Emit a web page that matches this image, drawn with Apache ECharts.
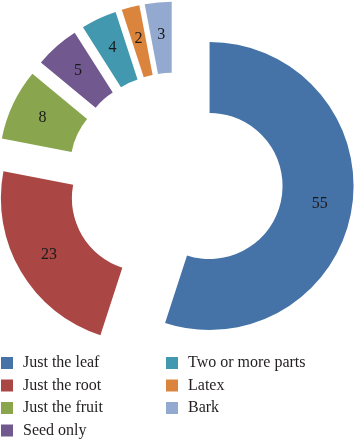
<!DOCTYPE html>
<html lang="en">

<head>
  <meta charset="UTF-8" />
  <title>Plant parts used</title>
  <script src="https://cdn.jsdelivr.net/npm/echarts@6/dist/echarts.min.js"></script>
  <style>
    body,
    html {
      margin: 0;
      padding: 0;
      width: 100%;
      height: 100%;
      overflow: hidden;
      background: #ffffff;
    }

    #chart {
      width: 355px;
      height: 440px;
    }
  </style>
</head>

<body>
  <div id="chart"></div>
</body>
<script>
  // parts of the plant that are used, share in %
  var categories = ['Just the leaf', 'Just the root', 'Just the fruit', 'Seed only', 'Two or more parts', 'Latex', 'Bark'];
  var values = [55, 23, 8, 5, 4, 2, 3];
  var colors = ['#4572a7', '#aa4643', '#89a54e', '#71588f', '#4198af', '#db843d', '#93a9cf'];

  var font = '"Liberation Serif", serif';

  var chart = echarts.init(document.getElementById('chart'), null, { renderer: 'canvas' });

  var legendBase = {
    orient: 'vertical',
    top: 355,
    padding: 0,
    itemWidth: 12,
    itemHeight: 12,
    itemGap: 6.5,
    icon: 'rect',
    selectedMode: false,
    textStyle: {
      fontFamily: font,
      fontSize: 16,
      lineHeight: 16,
      color: '#231f20',
      padding: [0, 0, 0, 5]
    }
  };

  var option = {
    animation: false,
    backgroundColor: '#ffffff',
    color: colors,
    legend: [
      Object.assign({}, legendBase, { left: 1, data: categories.slice(0, 4) }),
      Object.assign({}, legendBase, { left: 166, data: categories.slice(4) })
    ],
    series: [{
      type: 'pie',
      center: [175, 180.5],
      radius: [73, 144],
      startAngle: 90,
      clockwise: true,
      selectedMode: 'multiple',
      selectedOffset: 35,
      avoidLabelOverlap: false,
      emphasis: { scale: false },
      label: {
        show: true,
        position: 'inside',
        fontFamily: font,
        fontSize: 16,
        color: '#1a1a1a',
        formatter: '{c}'
      },
      labelLine: { show: false },
      itemStyle: { borderWidth: 0 },
      data: categories.map(function (name, i) {
        var item = { name: name, value: values[i], selected: true };
        if (i === 0) item.label = { offset: [1, -18] };
        if (i === 1) item.label = { offset: [5, 0] };
        return item;
      })
    }]
  };

  chart.setOption(option);
</script>

</html>
